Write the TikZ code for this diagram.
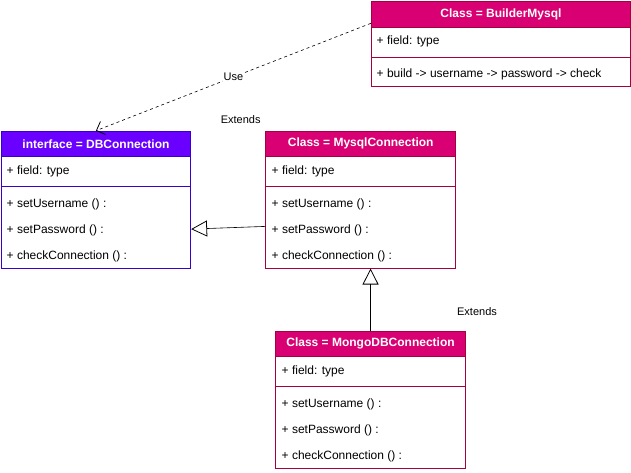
\documentclass[tikz,border=0pt]{standalone}
\usepackage{fontspec}
\setmainfont{Liberation Sans}
\usetikzlibrary{arrows.meta,calc}
\definecolor{mag}{HTML}{D80073}
\definecolor{magd}{HTML}{A50040}
\definecolor{pur}{HTML}{6A00FF}
\definecolor{purd}{HTML}{3700CC}
\begin{document}
\begin{tikzpicture}[x=1pt,y=-1pt,
  font=\fontsize{12}{14}\selectfont,
  body/.style={draw=#1, line width=0.8pt, fill=white, anchor=north west, inner sep=0pt},
  hdr/.style={draw=#1, line width=0.8pt, anchor=north west, inner sep=0pt, text=white, font=\fontsize{12}{14}\selectfont\bfseries},
  txt/.style={anchor=west, inner sep=0pt, yshift=-1.5pt},
  sep/.style={draw=#1, line width=0.8pt},
  lbl/.style={font=\fontsize{11}{13}\selectfont, inner sep=1pt},
  ext/.style={line width=0.6pt, -{Triangle[open, length=16pt, width=16pt, line width=0.8pt]}},
  use/.style={line width=0.6pt, dash pattern=on 3pt off 3pt, -{Straight Barb[length=7pt, width=14pt, line width=0.8pt]}}
]
\useasboundingbox (0,0) rectangle (631,472);

% BuilderMysql
\node[body=magd, minimum width=259.5pt, minimum height=85.5pt] (b) at (370.8,0.5) {};
\node[hdr=magd, fill=mag, minimum width=259.5pt, minimum height=26pt] (bh) at (370.8,0.5) {Class = BuilderMysql};
\node[txt] (bf) at (376.5,40) {+ field: type};
\draw[sep=magd] ($(b.north west)+(0,56.5)$) -- ($(b.north east)+(0,56.5)$);
\node[txt] (bm) at (376.5,73) {+ build -> username -> password -> check};

% DBConnection
\node[body=purd, minimum width=189.5pt, minimum height=137pt] (d) at (0.8,130.7) {};
\node[hdr=purd, fill=pur, minimum width=189.5pt, minimum height=25.5pt] (dh) at (0.8,130.7) {interface = DBConnection};
\node[txt] (df) at (6.5,170) {+ field: type};
\draw[sep=purd] ($(d.north west)+(0,55.6)$) -- ($(d.north east)+(0,55.6)$);
\node[txt] (d1) at (6.5,203) {+ setUsername () :};
\node[txt] (d2) at (6.5,229) {+ setPassword () :};
\node[txt] (d3) at (6.5,255) {+ checkConnection () :};

% MysqlConnection
\node[body=magd, minimum width=190pt, minimum height=137pt] (m) at (265.3,130.7) {};
\node[hdr=magd, fill=mag, minimum width=190pt, minimum height=25.5pt] (mh) at (265.3,130.7) {Class = MysqlConnection};
\node[txt] (mf) at (271.5,170) {+ field: type};
\draw[sep=magd] ($(m.north west)+(0,55.6)$) -- ($(m.north east)+(0,55.6)$);
\node[txt] (m1) at (271.5,203) {+ setUsername () :};
\node[txt] (m2) at (271.5,229) {+ setPassword () :};
\node[txt] (m3) at (271.5,255) {+ checkConnection () :};

% MongoDBConnection
\node[body=magd, minimum width=189.7pt, minimum height=137pt] (g) at (275.3,330.7) {};
\node[hdr=magd, fill=mag, minimum width=189.7pt, minimum height=25.5pt] (gh) at (275.3,330.7) {Class = MongoDBConnection};
\node[txt] (gf) at (281.5,370) {+ field: type};
\draw[sep=magd] ($(g.north west)+(0,55.6)$) -- ($(g.north east)+(0,55.6)$);
\node[txt] (g1) at (281.5,403) {+ setUsername () :};
\node[txt] (g2) at (281.5,429) {+ setPassword () :};
\node[txt] (g3) at (281.5,455) {+ checkConnection () :};

% connectors
\draw[use] ($(b.west)+(0,-20.3)$) -- node[lbl, fill=white, pos=0.5] (ul) {Use} (d.north);
\draw[ext] ($(m.west)+(0,26.8)$) -- ($(d.east)+(0,29.5)$);
\draw[ext] (g.north) -- (g.north |- m.south);

\node[lbl] (e1) at (240.7,120) {Extends};
\node[lbl] (e2) at (477,312) {Extends};
\end{tikzpicture}
\end{document}
